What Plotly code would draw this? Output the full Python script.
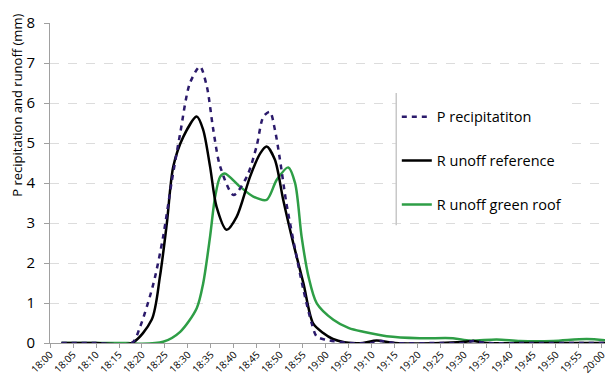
import plotly.graph_objects as go

# ---- data (minutes after 18:00) ----
precip_t = [2.5, 10, 17.8, 19.6, 22.5, 24.6, 26.4, 28.3, 30.4, 32.6, 34.1, 35.5, 37.0, 39.9,
            42.8, 44.9, 46.4, 47.8, 48.9, 50.0, 51.4, 53.6, 55.1, 56.9, 58.0, 60, 65, 70, 72,
            75, 85, 90, 92, 95, 105, 115, 122.4]
precip_v = [0, 0, 0, 0.41, 1.49, 2.66, 3.99, 5.24, 6.49, 6.91, 6.41, 5.33, 4.41, 3.7,
            4.16, 4.91, 5.66, 5.78, 5.33, 4.58, 3.49, 2.16, 1.33, 0.49, 0.16, 0.08, 0, 0, 0.05,
            0, 0, 0, 0.05, 0, 0, 0, 0]

ref_t = [2.5, 10, 17.8, 22.1, 23.9, 25.4, 26.8, 29.0, 31.9, 33.3, 34.8, 36.2, 38.4, 40.6,
         43.5, 45.7, 47.1, 48.9, 50.7, 52.9, 55.1, 57.2, 59.4, 61.5, 64, 68, 71, 75, 85, 90,
         92, 95, 105, 115, 122.4]
ref_v = [0, 0, 0, 0.58, 1.66, 2.99, 4.41, 5.16, 5.66, 5.33, 4.41, 3.41, 2.83, 3.16,
         4.16, 4.74, 4.91, 4.58, 3.58, 2.49, 1.49, 0.49, 0.25, 0.1, 0.02, 0, 0.06, 0, 0, 0.03,
         0.05, 0, 0, 0, 0]

green_t = [2.5, 10, 17, 20, 24.6, 28.3, 31.9, 33.3, 34.8, 35.9, 37.0, 38.0, 41.3, 44.2, 47.1,
           49.3, 51.8, 53.3, 54.7, 56.2, 58.0, 61.6, 65.0, 68.1, 73.2, 80.4, 87.6, 91.3, 97.1,
           102.2, 109.4, 116.7, 122.4]
green_v = [0, 0, 0, -0.02, 0.03, 0.28, 0.87, 1.49, 2.66, 3.66, 4.16, 4.24, 3.91, 3.66, 3.58,
           4.08, 4.39, 3.99, 2.66, 1.66, 0.99, 0.58, 0.37, 0.28, 0.17, 0.12, 0.12, 0.06, 0.09,
           0.05, 0.05, 0.1, 0.05]

tick_minutes = list(range(0, 121, 5))
tick_labels = ["18:00", "18:05", "18:10", "18:15", "18:20", "18:25", "18:30", "18:35", "18:40",
               "18:45", "18:50", "18:55", "19:00", "19:05", "19:10", "19:15", "19:20", "19:25",
               "19:30", "19:35", "19:40", "19:45", "19:50", "19:55", "20:00"]
y_ticks = [0, 1, 2, 3, 4, 5, 6, 7, 8]

FONT = "Open Sans"

fig = go.Figure()
fig.add_trace(go.Scatter(x=green_t, y=green_v, mode="lines", name="R unoff green roof",
                         line=dict(color="#2e9e46", width=2.5, shape="spline", smoothing=0.8),
                         legendgroup="c", legendrank=3))
fig.add_trace(go.Scatter(x=ref_t, y=ref_v, mode="lines", name="R unoff reference",
                         line=dict(color="#000000", width=2.5, shape="spline", smoothing=0.8),
                         legendgroup="b", legendrank=2))
fig.add_trace(go.Scatter(x=precip_t, y=precip_v, mode="lines", name="P recipitatiton",
                         line=dict(color="#2b1a6b", width=2.5, dash="5px,5px", shape="spline",
                                   smoothing=0.8),
                         legendgroup="a", legendrank=1))

# the page body adds an 8px offset, so margins are reduced by 8px on left/top
fig.update_layout(
    width=613, height=376,
    margin=dict(l=42, r=8, t=15, b=41, autoexpand=False),
    paper_bgcolor="white", plot_bgcolor="white",
    font=dict(family=FONT, color="#000000"),
    showlegend=True,
    legend=dict(x=0.616, y=0.757, xanchor="left", yanchor="top", bgcolor="white",
                font=dict(size=14.5, family=FONT), tracegroupgap=22, traceorder="grouped",
                itemwidth=30),
    xaxis=dict(range=[0, 122.4], tickmode="array", tickvals=tick_minutes, ticktext=tick_labels,
               tickangle=-45, tickfont=dict(size=10, family=FONT), automargin=False,
               showline=True, linecolor="#a0a0a0", linewidth=1,
               ticks="outside", ticklen=4, tickcolor="#a0a0a0", ticklabelstandoff=-3,
               showgrid=False, zeroline=False),
    yaxis=dict(range=[0, 8], tickmode="array", tickvals=y_ticks, automargin=False,
               tickfont=dict(size=15, family=FONT),
               showline=True, linecolor="#a0a0a0", linewidth=1,
               ticks="outside", ticklen=5, tickcolor="#a0a0a0", ticklabelstandoff=6,
               showgrid=True, gridcolor="#dcdcdc", griddash="dash", gridwidth=1,
               zeroline=False),
    annotations=[dict(text="P recipitation and runoff (mm)", xref="paper", yref="paper",
                      x=-0.059, y=0.744, xanchor="center", yanchor="middle", textangle=-90,
                      showarrow=False, font=dict(size=13, family=FONT))],
    shapes=[dict(type="line", xref="paper", yref="paper", x0=0.615, x1=0.615, y0=0.368, y1=0.781,
                 line=dict(color="#c8c8c8", width=1.5), layer="above")],
)

fig.write_html("out.html")
